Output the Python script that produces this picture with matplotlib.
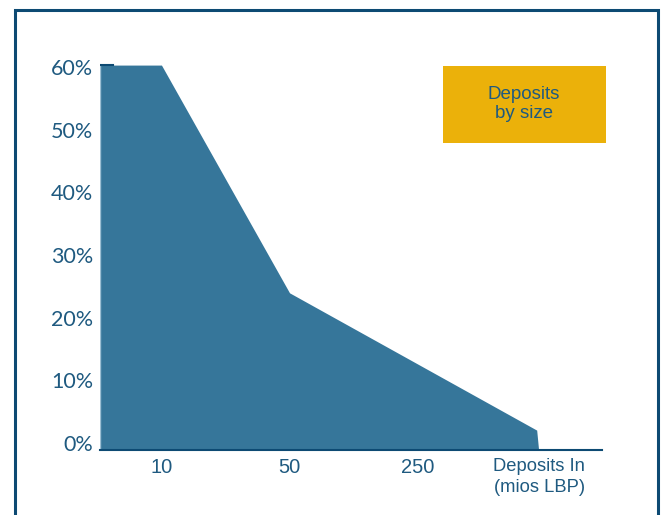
import matplotlib.pyplot as plt
from matplotlib.patches import Rectangle

# datos
x_pos = [-0.48, 0, 1, 2.93, 2.945]
shares = [0.60, 0.60, 0.245, 0.031, 0.0]
x_labels = ['10', '50', '250', 'Deposits In\n(mios LBP)']
y_ticks = [0, 0.1, 0.2, 0.3, 0.4, 0.5, 0.6]
box_text = 'Deposits\nby size'

area_color = '#36769a'
text_color = '#1f5a80'
frame_color = '#0d4a73'
box_color = '#ebb10a'

fig = plt.figure(figsize=(6.61, 5.15), dpi=100)

# marco exterior
fig.patches.append(Rectangle((15 / 661, -0.05), 643 / 661, 1 - 10 / 515 + 0.05,
                             transform=fig.transFigure, fill=False,
                             edgecolor=frame_color, linewidth=2.2))

ax = fig.add_axes([100 / 661, 1 - 450 / 515, 502 / 661, 417 / 515])
ax.fill_between(x_pos, shares, 0, color=area_color, linewidth=0)
ax.plot([x_pos[0], x_pos[0]], [0, shares[0]], color='#9dbfd3', linewidth=1)
ax.plot([x_pos[0], x_pos[0] + 0.1], [shares[0], shares[0]], color=frame_color, linewidth=1.5)

ax.set_xlim(-0.48, 3.44)
ax.set_ylim(0, 0.65)

for s in ['top', 'right', 'left']:
    ax.spines[s].set_visible(False)
ax.spines['bottom'].set_color(frame_color)
ax.spines['bottom'].set_linewidth(1.5)

ax.set_xticks([0, 1, 2, 2.95])
ax.set_xticklabels(x_labels)
for i, lab in enumerate(ax.get_xticklabels()):
    lab.set_fontfamily('Liberation Sans')
    lab.set_color(text_color)
    lab.set_fontsize(14.5 if i < 3 else 13.2)
    lab.set_verticalalignment('top')
    lab.set_linespacing(1.25)
ax.tick_params(axis='x', length=0, pad=6)

# las etiquetas del eje y estan un poco desplazadas en el original
ax.set_yticks([v * 0.977 + 0.011 for v in y_ticks])
ax.set_yticklabels([f'{int(v * 100)}%' for v in y_ticks])
for lab in ax.get_yticklabels():
    lab.set_fontfamily('Lato')
    lab.set_color(text_color)
    lab.set_fontsize(15.5)
ax.tick_params(axis='y', length=0, pad=5)

# cuadro de leyenda
fig.patches.append(Rectangle((443 / 661, 1 - 143 / 515), 163 / 661, 77 / 515,
                             transform=fig.transFigure, facecolor=box_color,
                             edgecolor='none'))
fig.text(524 / 661, 1 - 104 / 515, box_text, ha='center', va='center',
         fontsize=13.5, color=text_color, family='Liberation Sans', linespacing=1.2)

fig.savefig('out.png', dpi=100)
